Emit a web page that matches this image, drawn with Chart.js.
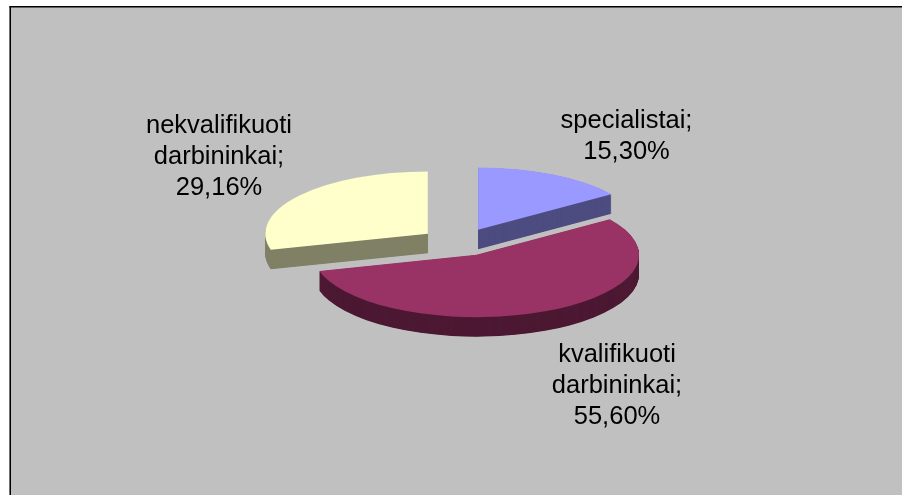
<!DOCTYPE html>
<html><head><meta charset="utf-8">
<style>html,body{margin:0;padding:0;background:#fff}#w{position:absolute;left:0;top:0;width:902px;height:495px}</style>
<script src="https://cdn.jsdelivr.net/npm/chart.js@4"></script>
</head><body><div id="w"><canvas id="c"></canvas></div>
<script>
const categories = ['specialistai', 'kvalifikuoti darbininkai', 'nekvalifikuoti darbininkai'];
const shares = [15.30, 55.60, 29.16];
const topColors = ['#9999ff', '#993366', '#ffffcc'];
const sideColors = ['#4d4d80', '#4d1933', '#808066'];
const labelLines = [['specialistai;', '15,30%'], ['kvalifikuoti', 'darbininkai;', '55,60%'], ['nekvalifikuoti', 'darbininkai;', '29,16%']];
const labelAnchors = [[626.5, 127.5], [617, 361.5], [219, 132.5]];

const RX = 162.6, SQUASH = 0.383, DEPTH = 19.5, EXPLODE = 40, EXPLODE_Y = 0.349;
const CX = 459.6, CY = 242.2;

const pie3d = {
  id: 'pie3d',
  beforeDraw(chart) {
    const g = chart.ctx;
    g.save();
    g.fillStyle = '#c0c0c0';
    g.fillRect(9.5, 6, 892.5, 489);
    g.fillStyle = '#000';
    g.fillRect(9.5, 6, 892.5, 1.5);
    g.fillRect(9.5, 6, 1.5, 489);
    g.restore();
  },
  beforeDatasetDraw(chart, args) {
    const g = chart.ctx;
    const arcs = args.meta.data;
    const paint = (arc, dy, color) => {
      const mid = (arc.startAngle + arc.endAngle) / 2;
      const ox = Math.cos(mid) * EXPLODE, oy = Math.sin(mid) * EXPLODE * EXPLODE_Y;
      g.save();
      g.translate(CX + ox, CY + oy + dy);
      g.scale(1, SQUASH);
      g.translate(-arc.x, -arc.y);
      const saved = arc.options;
      arc.options = Object.assign({}, saved, {backgroundColor: color, borderWidth: 0, offset: 0});
      arc.draw(g);
      arc.options = saved;
      g.restore();
    };
    arcs.forEach((arc, i) => {
      for (let d = DEPTH; d > 0; d -= 0.5) paint(arc, d, sideColors[i]);
      paint(arc, 0, topColors[i]);
    });
    return false;
  },
  afterDraw(chart) {
    const g = chart.ctx;
    g.save();
    g.fillStyle = '#000';
    g.font = '25.5px "Liberation Sans", Arial, sans-serif';
    g.textAlign = 'center';
    g.textBaseline = 'alphabetic';
    labelLines.forEach((lines, i) => {
      lines.forEach((t, j) => g.fillText(t, labelAnchors[i][0], labelAnchors[i][1] + j * 31));
    });
    g.restore();
  }
};

new Chart(document.getElementById('c'), {
  type: 'pie',
  data: { labels: categories, datasets: [{ data: shares, backgroundColor: topColors, borderWidth: 0 }] },
  options: {
    responsive: true, maintainAspectRatio: false, animation: false,
    radius: RX,
    plugins: { legend: { display: false }, tooltip: { enabled: false } }
  },
  plugins: [pie3d]
});
</script></body></html>
